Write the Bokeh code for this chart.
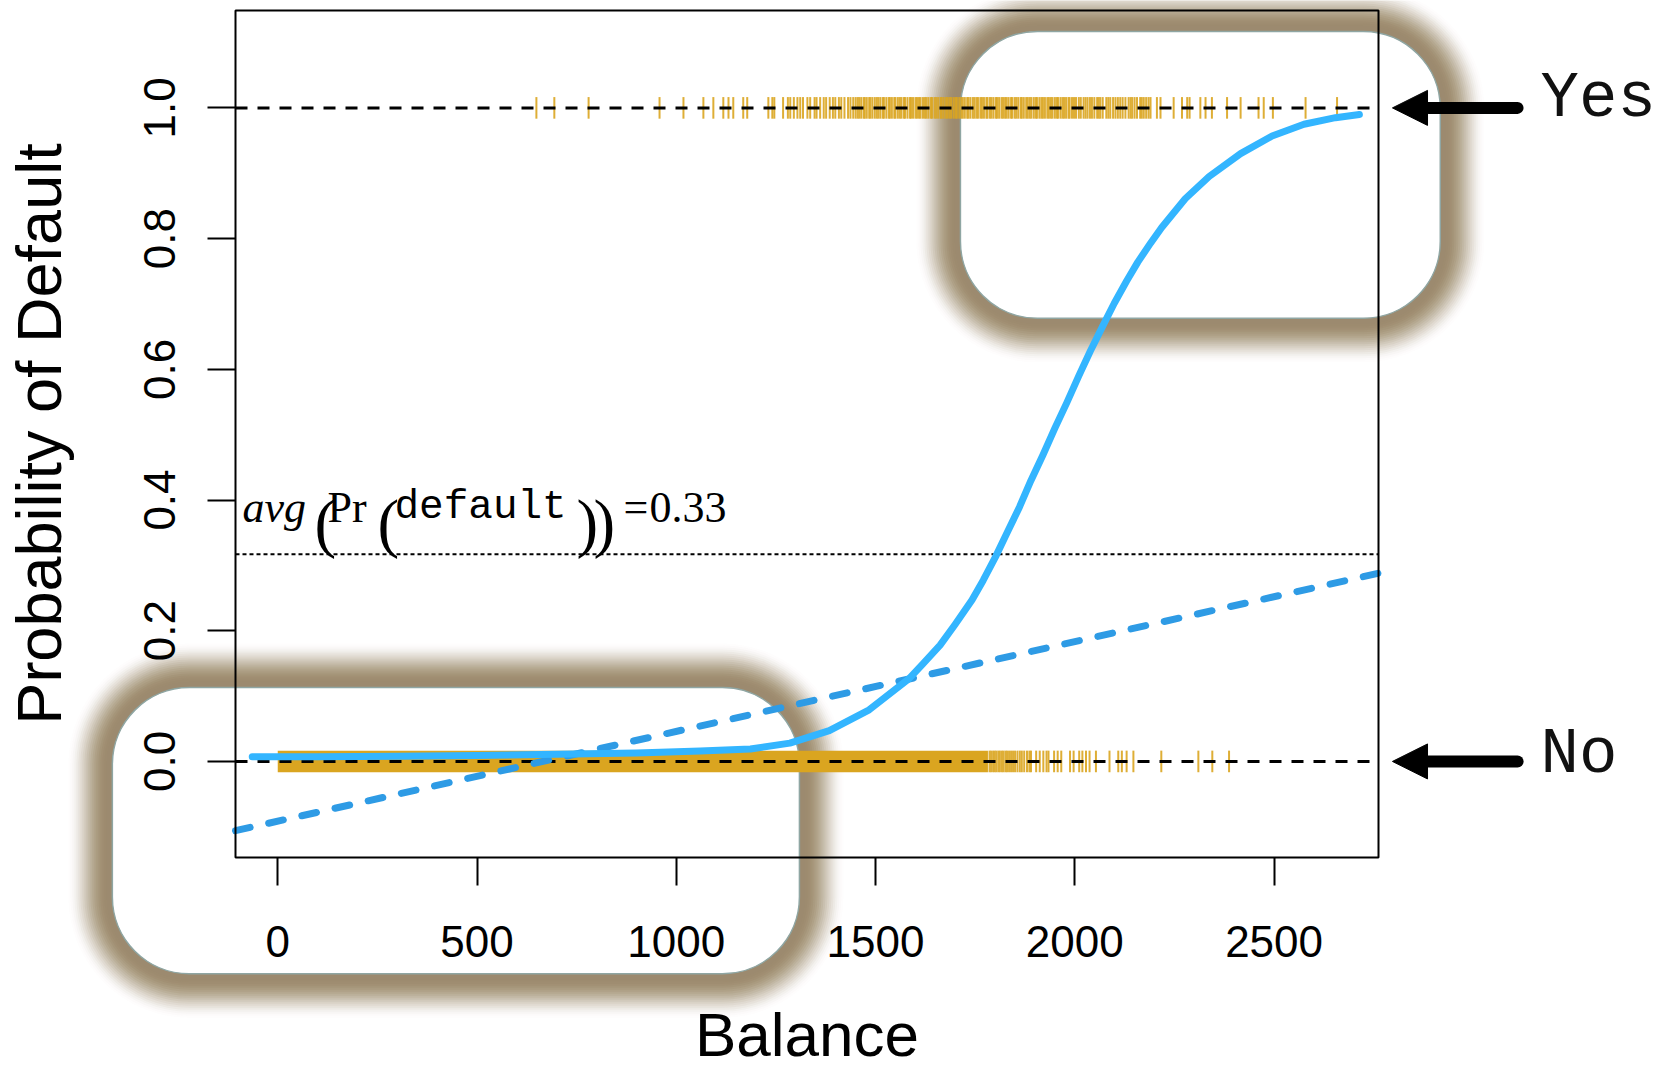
import math
from bokeh.plotting import figure
from bokeh.models import (BoxAnnotation, PolyAnnotation, Label, FixedTicker,
                          PrintfTickFormatter, ColumnDataSource)
from bokeh.embed import file_html
from bokeh.resources import INLINE

# ---------------- data ----------------
# rug of balances for defaulters (Yes, plotted at 1)
yes_balance = [
    649, 694, 780, 958, 1018, 1068, 1093, 1118, 1131, 1143, 1168, 1178, 1231, 1241, 1246, 1268,
    1280, 1286, 1295,
    1304, 1311, 1318, 1329, 1336, 1347, 1352, 1361, 1370, 1376, 1385, 1393, 1399, 1408, 1414,
    1422, 1431, 1437, 1444, 1450,
    1455, 1459, 1464, 1470, 1473, 1478, 1484, 1487, 1492, 1498, 1503, 1507, 1512, 1518, 1521,
    1527, 1533, 1536, 1541, 1547, 1550, 1556, 1561, 1565, 1571, 1574, 1580, 1586, 1589, 1594,
    1600, 1604, 1609, 1613, 1619, 1624, 1628, 1633, 1639, 1642, 1648, 1652, 1657, 1663, 1666,
    1671, 1677, 1681, 1686, 1690, 1696, 1701, 1704, 1710, 1715, 1719, 1724, 1730, 1733, 1738,
    1744, 1748, 1753, 1757, 1763, 1767, 1772, 1778, 1781, 1787, 1791, 1796, 1802, 1805, 1810,
    1816, 1820, 1825, 1829, 1834, 1840, 1843, 1849, 1853, 1858, 1864, 1867, 1872, 1878, 1882,
    1887, 1891, 1897, 1902, 1905, 1911, 1916, 1920, 1925, 1931, 1935, 1940, 1944, 1950, 1955,
    1958, 1964, 1969, 1973, 1978, 1984, 1987, 1993, 1998, 2003,
    2010, 2015, 2022, 2027, 2032, 2038, 2043, 2049, 2056, 2060, 2064, 2070, 2079, 2084, 2089,
    2096, 2102, 2108, 2114, 2120, 2127, 2135, 2140, 2144, 2150, 2156, 2164, 2168, 2173, 2179,
    2185, 2190,
    2206, 2215, 2248, 2269, 2282, 2288, 2315, 2328, 2344, 2382, 2416, 2461, 2474, 2497, 2579, 2658,
]
# rug of balances for non-defaulters (No, plotted at 0): a solid block, then single ticks
no_dense_start = [0]
no_dense_end = [1782]
no_balance = [
    1786, 1790, 1795, 1799, 1803, 1808, 1812, 1817, 1821, 1826, 1830, 1835, 1840, 1845, 1850,
    1856, 1862, 1867, 1873, 1880, 1886, 1890, 1903, 1912, 1921, 1929, 1934, 1948, 1957, 1966,
    1988, 1997, 2011, 2019, 2028, 2037, 2053, 2087, 2109, 2118, 2130, 2147, 2217, 2310, 2345, 2387,
]
# fitted logistic curve
curve_balance = [-64, 100, 300, 500, 700, 900, 1060, 1186, 1285, 1384, 1484, 1583, 1620, 1662,
                 1700, 1742, 1770, 1801, 1830, 1861, 1890, 1920, 1950, 1980, 2010, 2039, 2070,
                 2099, 2130, 2158, 2190, 2218, 2277, 2337, 2416, 2495, 2575, 2654, 2714]
curve_prob = [0.007, 0.007, 0.008, 0.009, 0.011, 0.013, 0.016, 0.019, 0.028, 0.047, 0.079,
              0.126, 0.150, 0.178, 0.210, 0.247, 0.277, 0.313, 0.350, 0.389, 0.430, 0.469,
              0.510, 0.549, 0.590, 0.628, 0.666, 0.701, 0.735, 0.764, 0.793, 0.817, 0.861,
              0.895, 0.930, 0.957, 0.975, 0.985, 0.990]
# fitted linear regression line (values at the plot-box edges)
linear_balance = [-106, 2762]
linear_prob = [-0.106, 0.288]
# average predicted probability
avg_prob = 0.317
avg_text = "0.33"
class_levels = [1, 0]
class_names = ["Yes", "No"]
x_ticks = [0, 500, 1000, 1500, 2000, 2500]
y_ticks = [0.0, 0.2, 0.4, 0.6, 0.8, 1.0]

# ---------------- layout / style ----------------
W, H = 1666, 1068
BL, BR, BT, BB = 235, 288, 10, 211          # plot box margins in pixels
X0, X1 = -106, 2762                          # plot box extent (data)
Y0, Y1 = -0.147, 1.149
dxpp = (X1 - X0) / (W - BL - BR)
dypp = (Y1 - Y0) / (H - BT - BB)

GOLD = "#DAA520"
SOLID_BLUE = "#33B5FF"
DASH_BLUE = "#2E9BE5"
GLOW = "#8C7752"
TOP = "annotation"

# the frame covers the whole canvas so that the highlight boxes, arrows and
# class names can reach outside the plot box; axes are pinned to the box edges
p = figure(width=W, height=H,
           x_range=(X0 - BL * dxpp, X1 + BR * dxpp),
           y_range=(Y0 - BB * dypp, Y1 + BT * dypp),
           output_backend="svg", toolbar_location=None, min_border=0)
p.background_fill_color = "white"
p.border_fill_color = "white"
p.outline_line_color = None
p.grid.visible = False


# soft halo profile (coverage vs. distance in px from the box edge)
def halo_cov(x):
    if x <= 6:
        return 0.82
    if x >= 46:
        return 0.0
    return 0.82 * 0.5 * (1 + math.cos(math.pi * (x - 6) / 40))


STEP = 2
halo_layers = []
for d in range(46, 0, -STEP):
    t_in = 1 - halo_cov(d - STEP / 2)
    t_out = 1 - halo_cov(d + STEP / 2)
    a = 1 - t_in / t_out
    if a > 0.001:
        halo_layers.append((d, a))

# highlight boxes with blurred brown halo
boxes = [(1713, 2917, 1.117, 0.678), (-415, 1309, 0.113, -0.325)]
for (l, r, t, b) in boxes:
    for d, a in halo_layers:
        p.add_layout(BoxAnnotation(left=l - d * dxpp, right=r + d * dxpp,
                                   top=t + d * dypp, bottom=b - d * dypp,
                                   fill_color=GLOW, fill_alpha=a,
                                   line_color=None, border_radius=77 + d, level="guide"))
    p.add_layout(BoxAnnotation(left=l, right=r, top=t, bottom=b,
                               fill_color="white", fill_alpha=1.0,
                               line_color="#8FA6A3", line_width=1.5, line_alpha=1.0,
                               border_radius=77, level="guide"))

# rugs
rug_h = 10.8 * dypp
yes_src = ColumnDataSource(dict(x=yes_balance,
                                y0=[class_levels[0] - rug_h] * len(yes_balance),
                                y1=[class_levels[0] + rug_h] * len(yes_balance)))
p.segment(x0="x", x1="x", y0="y0", y1="y1", source=yes_src,
          line_color=GOLD, line_width=2, line_alpha=0.9, level=TOP)
p.quad(left=no_dense_start, right=no_dense_end,
       bottom=[class_levels[1] - rug_h], top=[class_levels[1] + rug_h],
       fill_color=GOLD, line_color=None, level=TOP)
no_src = ColumnDataSource(dict(x=no_balance,
                               y0=[class_levels[1] - rug_h] * len(no_balance),
                               y1=[class_levels[1] + rug_h] * len(no_balance)))
p.segment(x0="x", x1="x", y0="y0", y1="y1", source=no_src,
          line_color=GOLD, line_width=2, line_alpha=0.9, level=TOP)

# reference lines across the plot box
p.segment(x0=[X0] * len(class_levels), x1=[X1] * len(class_levels),
          y0=class_levels, y1=class_levels,
          line_color="black", line_width=3, line_dash="12 10", level=TOP)
p.segment(x0=[X0], x1=[X1], y0=[avg_prob], y1=[avg_prob],
          line_color="black", line_width=2, line_dash="4 3", level=TOP)

# fits
p.line(linear_balance, linear_prob, line_color=DASH_BLUE, line_width=7,
       line_dash="15 19", line_cap="round", level=TOP)
p.line(curve_balance, curve_prob, line_color=SOLID_BLUE, line_width=7,
       line_cap="round", line_join="round", level=TOP)

# plot box
p.add_layout(BoxAnnotation(left=X0, right=X1, top=Y1, bottom=Y0, fill_alpha=0,
                           fill_color=None, line_color="black", line_width=2,
                           line_alpha=1.0, level="overlay"))

# annotation text avg(Pr(default)) = 0.33
pieces = [
    ("avg", "Liberation Serif", "italic", 44, 7, 47),
    ("(", "Liberation Serif", "normal", 65, 79, 31),
    ("Pr", "Liberation Serif", "normal", 44, 92, 47),
    ("(", "Liberation Serif", "normal", 65, 142, 31),
    ("default", "Liberation Mono", "normal", 41, 159, 47),
    (")", "Liberation Serif", "normal", 65, 341, 31),
    (")", "Liberation Serif", "normal", 65, 358, 31),
    ("=", "Liberation Serif", "normal", 44, 388, 47),
    (avg_text, "Liberation Serif", "normal", 44, 414, 47),
]
for (txt, font, style, size, dx, dy) in pieces:
    p.add_layout(Label(x=X0, y=avg_prob, x_offset=dx, y_offset=dy, text=txt,
                       text_font=font, text_font_style=style,
                       text_font_size=f"{size}px", text_color="black",
                       text_baseline="alphabetic", text_align="left"))

# arrows (shaft + triangular head) and class names
tip_x, head_x, tail_x = 2797, 2885, 3111
head_h = 17.5 * dypp
for lvl, name, ldy in zip(class_levels, class_names, [9, 6]):
    p.add_layout(BoxAnnotation(left=head_x - 5 * dxpp, right=tail_x + 6 * dxpp,
                               top=lvl + 6 * dypp, bottom=lvl - 6 * dypp,
                               fill_color="black", fill_alpha=1.0, line_color=None,
                               border_radius=6, level="annotation"))
    p.add_layout(PolyAnnotation(xs=[tip_x, head_x, head_x], ys=[lvl, lvl + head_h, lvl - head_h],
                                fill_color="black", fill_alpha=1.0, line_color="black",
                                line_width=1, line_alpha=1.0))
    p.add_layout(Label(x=tail_x, y=lvl, x_offset=23, y_offset=ldy, text=name,
                       text_font="Liberation Mono", text_font_size="64px",
                       text_color="#111111", text_baseline="alphabetic"))

# axes pinned to the plot box edges
p.xaxis.fixed_location = Y0
p.yaxis.fixed_location = X0
p.xaxis.bounds = (X0, X1)
p.yaxis.bounds = (Y0, Y1)
for ax in (p.xaxis[0], p.yaxis[0]):
    ax.level = "overlay"
    ax.axis_line_color = None
    ax.major_tick_line_color = "black"
    ax.major_tick_line_width = 2
    ax.major_tick_out = 28
    ax.major_tick_in = 0
    ax.minor_tick_line_color = None
    ax.major_label_text_font = "Liberation Sans"
    ax.major_label_text_font_size = "44px"
    ax.major_label_text_color = "black"
    ax.axis_label_text_font = "Liberation Sans"
    ax.axis_label_text_font_style = "normal"
    ax.axis_label_text_color = "black"

p.xaxis.axis_label_text_font_size = "62px"
p.yaxis.axis_label_text_font_size = "63px"
p.xaxis.ticker = FixedTicker(ticks=x_ticks, minor_ticks=[])
p.yaxis.ticker = FixedTicker(ticks=y_ticks, minor_ticks=[])
p.yaxis.formatter = PrintfTickFormatter(format="%.1f")
p.yaxis.major_label_orientation = "vertical"
p.xaxis.axis_label = "Balance"
p.yaxis.axis_label = "Probability of Default"
p.xaxis.major_label_standoff = 40
p.xaxis.axis_label_standoff = 40
p.yaxis.major_label_standoff = 32
p.yaxis.axis_label_standoff = 68

open("out.html", "w").write(file_html(p, INLINE))
